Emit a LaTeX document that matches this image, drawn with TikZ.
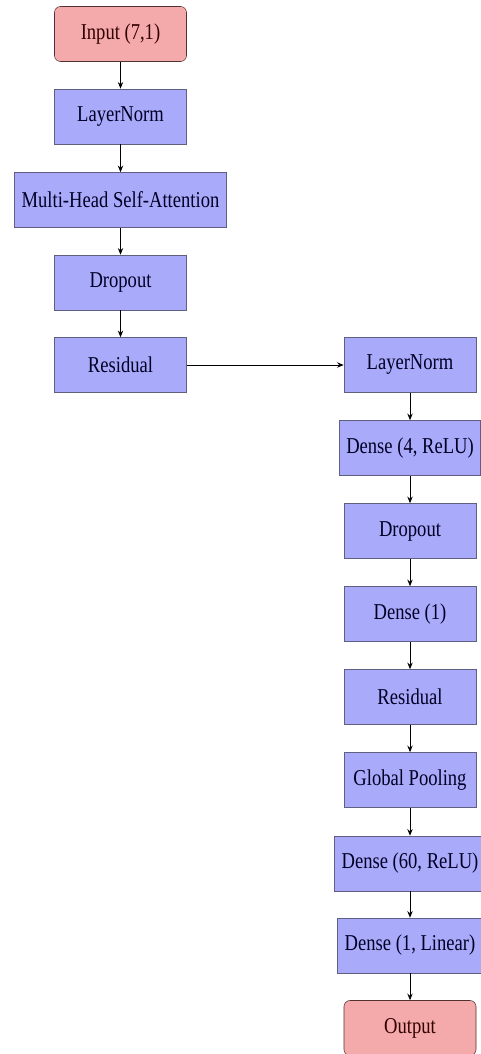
\documentclass[tikz,border=0pt]{standalone}
\usepackage{fontspec}
\setmainfont{Liberation Serif}[FakeStretch=0.82]
\usetikzlibrary{arrows.meta}
\definecolor{layerfill}{RGB}{170,170,250}
\definecolor{layerline}{RGB}{95,95,130}
\definecolor{iofill}{RGB}{244,170,170}
\definecolor{ioline}{RGB}{80,50,50}
\tikzset{
	layer/.style={draw=layerline, fill=layerfill, rectangle, minimum width=99pt, minimum height=41.25pt, inner xsep=5.25pt, font=\fontsize{17}{20}\selectfont, text=black!85!blue},
	io/.style={layer, draw=ioline, fill=iofill, rounded corners=4.5pt, text=black!80!red},
	link/.style={-{Stealth[length=5pt,width=4pt]}, line width=0.7pt}
}
\begin{document}
\begin{tikzpicture}[x=0.75pt, y=-0.75pt]
	\useasboundingbox (0,0) rectangle (481,1054);
	\node[io] (Input) at (120.5, 34) {Input (7,1)};
	\node[layer] (LayerNorm A) at (120.5, 116.5) {LayerNorm};
	\node[layer] (Attention) at (120.5, 200) {Multi-Head Self-Attention};
	\node[layer] (Dropout A) at (120.5, 282.5) {Dropout};
	\node[layer] (Residual A) at (120.5, 365) {Residual};
	\node[layer] (LayerNorm B) at (410, 365) {LayerNorm};
	\node[layer] (Dense Relu) at (410, 448) {Dense (4, ReLU)};
	\node[layer] (Dropout B) at (410, 531) {Dropout};
	\node[layer] (Dense One) at (410, 614) {Dense (1)};
	\node[layer] (Residual B) at (410, 697) {Residual};
	\node[layer] (Pooling) at (410, 780) {Global Pooling};
	\node[layer] (Dense Sixty) at (410, 863.5) {Dense (60, ReLU)};
	\node[layer] (Dense Linear) at (410, 945.5) {Dense (1, Linear)};
	\node[io] (Output) at (410, 1028) {Output};
	\draw[link] (Input) -- (LayerNorm A);
	\draw[link] (LayerNorm A) -- (Attention);
	\draw[link] (Attention) -- (Dropout A);
	\draw[link] (Dropout A) -- (Residual A);
	\draw[link] (Residual A) -- (LayerNorm B);
	\draw[link] (LayerNorm B) -- (Dense Relu);
	\draw[link] (Dense Relu) -- (Dropout B);
	\draw[link] (Dropout B) -- (Dense One);
	\draw[link] (Dense One) -- (Residual B);
	\draw[link] (Residual B) -- (Pooling);
	\draw[link] (Pooling) -- (Dense Sixty);
	\draw[link] (Dense Sixty) -- (Dense Linear);
	\draw[link] (Dense Linear) -- (Output);
\end{tikzpicture}
\end{document}
